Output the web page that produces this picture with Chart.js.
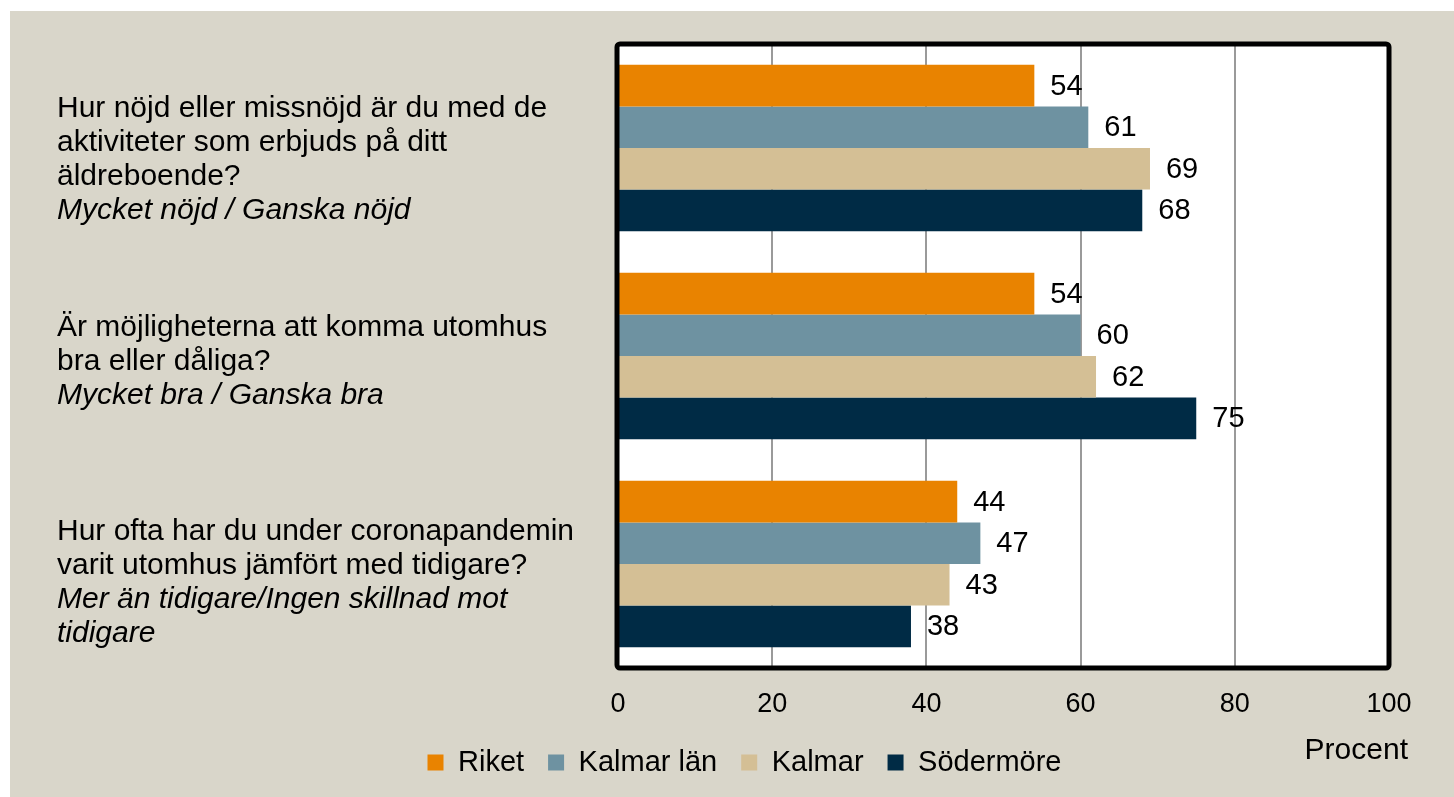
<!DOCTYPE html>
<html>
<head>
<meta charset="utf-8">
<script src="https://cdn.jsdelivr.net/npm/chart.js@4/dist/chart.umd.min.js"></script>
<style>
  html, body { margin: 0; padding: 0; background: #ffffff; width: 1454px; height: 797px; overflow: hidden; }
  #panel { position: absolute; left: 10px; top: 11px; width: 1444px; height: 786px; background: #D9D6CA; }
  canvas { display: block; }
</style>
</head>
<body>
<div id="panel"><canvas id="c" width="1444" height="786"></canvas></div>
<script>
// ---- data ----
const questionLines = [
  ["Hur nöjd eller missnöjd är du med de", "aktiviteter som erbjuds på ditt", "äldreboende?"],
  ["Är möjligheterna att komma utomhus", "bra eller dåliga?"],
  ["Hur ofta har du under coronapandemin", "varit utomhus jämfört med tidigare?"]
];
const answerLines = [
  ["Mycket nöjd / Ganska nöjd"],
  ["Mycket bra / Ganska bra"],
  ["Mer än tidigare/Ingen skillnad mot", "tidigare"]
];
const categories = questionLines.map((q, i) => q.join(" ") + " " + answerLines[i].join(" "));
const seriesNames = ["Riket", "Kalmar län", "Kalmar", "Södermöre"];
const riket = [54, 54, 44];
const kalmarLan = [61, 60, 47];
const kalmar = [69, 62, 43];
const sodermore = [68, 75, 38];
const xTicks = [0, 20, 40, 60, 80, 100];
const xTitle = "Procent";

const colors = ["#E98300", "#6E92A1", "#D4BF95", "#002B45"];
const FONT = "'Liberation Sans', Arial, sans-serif";

const bgPlugin = {
  id: "bg",
  beforeDraw(chart) {
    const { ctx, chartArea: a } = chart;
    ctx.save();
    ctx.fillStyle = "#ffffff";
    ctx.fillRect(a.left, a.top, a.right - a.left, a.bottom - a.top);
    ctx.restore();
  }
};

const framePlugin = {
  id: "frame",
  afterDatasetsDraw(chart) {
    const { ctx, chartArea: a } = chart;
    ctx.save();
    ctx.strokeStyle = "#000000";
    ctx.lineWidth = 5;
    ctx.lineJoin = "round";
    ctx.beginPath();
    ctx.roundRect(a.left - 1, a.top, a.right - a.left + 1, a.bottom - a.top, 3);
    ctx.stroke();
    ctx.restore();
  }
};

const valueLabels = {
  id: "valueLabels",
  afterDatasetsDraw(chart) {
    const { ctx } = chart;
    ctx.save();
    ctx.font = "29px " + FONT;
    ctx.fillStyle = "#000000";
    ctx.textAlign = "left";
    ctx.textBaseline = "middle";
    chart.data.datasets.forEach((ds, di) => {
      const meta = chart.getDatasetMeta(di);
      meta.data.forEach((bar, i) => {
        ctx.fillText(String(ds.data[i]), bar.x + 16, bar.y + 1);
      });
    });
    ctx.restore();
  }
};

const categoryLabels = {
  id: "categoryLabels",
  afterDraw(chart) {
    const { ctx } = chart;
    const y = chart.scales.y;
    const lh = 34;
    const shift = [12, 6, 19];
    ctx.save();
    ctx.fillStyle = "#000000";
    ctx.textAlign = "left";
    ctx.textBaseline = "middle";
    categories.forEach((c, i) => {
      const lines = questionLines[i].map(t => ({ t, it: false }))
        .concat(answerLines[i].map(t => ({ t, it: true })));
      const cy = y.getPixelForValue(i) + shift[i];
      const y0 = cy - (lines.length - 1) * lh / 2;
      lines.forEach((ln, k) => {
        ctx.font = (ln.it ? "italic " : "") + "30px " + FONT;
        ctx.fillText(ln.t, 47, y0 + k * lh);
      });
    });
    ctx.restore();
  }
};

const procentPlugin = {
  id: "procent",
  afterDraw(chart) {
    const { ctx } = chart;
    const a = chart.chartArea;
    ctx.save();
    ctx.font = "30px " + FONT;
    ctx.fillStyle = "#000000";
    ctx.textAlign = "right";
    ctx.textBaseline = "middle";
    ctx.fillText(xTitle, a.right + 19, a.bottom + 83);
    ctx.restore();
  }
};

new Chart(document.getElementById("c"), {
  type: "bar",
  data: {
    labels: categories,
    datasets: [riket, kalmarLan, kalmar, sodermore].map((d, i) => ({
      label: seriesNames[i],
      data: d,
      backgroundColor: colors[i],
      borderWidth: 0,
      categoryPercentage: 0.8,
      barPercentage: 1.0
    }))
  },
  options: {
    indexAxis: "y",
    responsive: false,
    animation: false,
    devicePixelRatio: 1,
    layout: { padding: { top: 33, right: 65, bottom: 10, left: 90 } },
    scales: {
      x: {
        min: 0, max: 100,
        afterBuildTicks(s) { s.ticks = xTicks.map(v => ({ value: v })); },
        afterFit(s) { s.height = 56; },
        ticks: { font: { size: 27, family: FONT }, color: "#000000", padding: 20 },
        grid: {
          drawTicks: false,
          color: (c) => (c.tick && (c.tick.value === 0 || c.tick.value === 100)) ? "rgba(0,0,0,0)" : "#9a9a9a",
          lineWidth: 2
        },
        border: { display: false }
      },
      y: {
        ticks: { display: false },
        grid: { display: false },
        border: { display: false },
        afterFit(s) { s.width = 518; }
      }
    },
    plugins: {
      legend: {
        position: "bottom",
        labels: {
          font: { size: 29, family: FONT },
          color: "#000000",
          boxWidth: 16,
          boxHeight: 16,
          padding: 24
        }
      },
      tooltip: { enabled: false }
    }
  },
  plugins: [bgPlugin, framePlugin, valueLabels, categoryLabels, procentPlugin]
});
</script>
</body>
</html>
